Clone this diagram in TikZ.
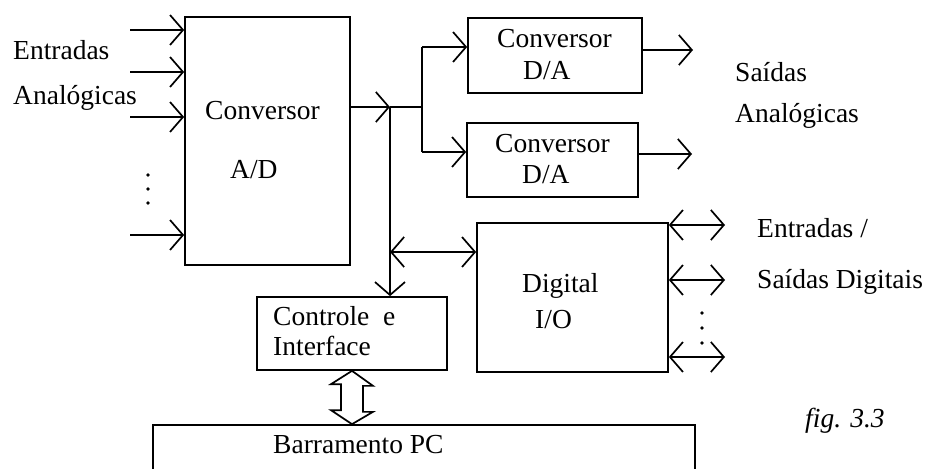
\documentclass[tikz,border=0pt]{standalone}
\usepackage{fontspec}
\setmainfont{Liberation Serif}
\usetikzlibrary{arrows.meta,calc}
\begin{document}
\begin{tikzpicture}[x=1pt,y=-1pt,
  box/.style={draw,line width=1.7pt,inner sep=0pt},
  lbl/.style={font=\fontsize{27.5}{30}\selectfont,inner sep=0pt,anchor=base west},
  wire/.style={line width=1.7pt},
  barb/.tip={Straight Barb[length=13pt,width=30pt,line width=1.7pt]},
  tipend/.style={-barb},
  tipboth/.style={barb-barb}]
\useasboundingbox (0,0) rectangle (941,468);
\clip (0,0) rectangle (941,468);

% boxes
\node[box,minimum width=165pt,minimum height=248pt] (ad) at (267.5,141) {};
\node[box,minimum width=174pt,minimum height=75pt] (da1) at (555,55.5) {};
\node[box,minimum width=171pt,minimum height=74pt] (da2) at (552.5,160) {};
\node[box,minimum width=191pt,minimum height=149pt] (dig) at (572.5,297.5) {};
\node[box,minimum width=190pt,minimum height=73pt] (ctl) at (352,333.5) {};
\node[box,minimum width=542pt,minimum height=56pt] (bus) at (424,453) {};

% labels
\node[lbl] (t1) at (13,60) {Entradas};
\node[lbl] (t2) at (13,105) {Analógicas};
\node[lbl] (t3) at (205,120) {Conversor};
\node[lbl] (t4) at (230,178) {A/D};
\node[lbl] (t5) at (497,48) {Conversor};
\node[lbl] (t6) at (523,80) {D/A};
\node[lbl] (t7) at (495,152) {Conversor};
\node[lbl] (t8) at (522,183) {D/A};
\node[lbl] (t9) at (735,82) {Saídas};
\node[lbl] (t10) at (735,122) {Analógicas};
\node[lbl] (t11) at (522,292) {Digital};
\node[lbl] (t12) at (535,328) {I/O};
\node[lbl] (t13) at (273,325) {Controle\ \ e};
\node[lbl] (t14) at (273,355) {Interface};
\node[lbl] (t15) at (273,453) {Barramento PC};
\node[lbl] (t16) at (757,237) {Entradas /};
\node[lbl] (t17) at (757,288) {Saídas Digitais};
\node[lbl,font=\fontsize{27.5}{30}\selectfont\itshape] (t18) at (805,427) {fig. 3.3};

% analog inputs
\coordinate (i1) at (130,30);
\coordinate (i2) at (130,72);
\coordinate (i3) at (130,117);
\coordinate (i4) at (130,235);
\foreach \c in {i1,i2,i3,i4} \draw[wire,tipend] (\c) -- (\c -| ad.west);
\foreach \y in {175,189,203} \fill (148,\y) circle (1.9pt);

% bus
\coordinate (bj) at (390,107);
\coordinate (sp) at (422,107);
\coordinate (s1) at (422,47);
\coordinate (s2) at (422,152);
\draw[wire,tipend] (bj -| ad.east) -- (bj);
\draw[wire] (bj) -- (sp);
\draw[wire] (s1) -- (s2);
\draw[wire,tipend] (s1) -- (s1 -| da1.west);
\draw[wire,tipend] (s2) -- (s2 -| da2.west);
\draw[wire,tipend] (bj) -- (bj |- ctl.north);
\coordinate (bd) at (390,252);
\draw[wire,tipboth] (bd) -- (bd -| dig.west);

% analog outputs
\coordinate (o1) at (693,50);
\coordinate (o2) at (692,154);
\draw[wire,tipend] (o1 -| da1.east) -- (o1);
\draw[wire,tipend] (o2 -| da2.east) -- (o2);

% digital I/O
\coordinate (d1) at (725,225);
\coordinate (d2) at (725,280);
\coordinate (d3) at (725,357);
\foreach \c in {d1,d2,d3} \draw[wire,tipboth] (\c -| dig.east) -- (\c);
\foreach \y in {313,328,343} \fill (702,\y) circle (1.9pt);

% hollow double arrow between interface and PC bus
\draw[line width=1.7pt,line join=miter]
  (ctl.south) -- ++(21,15) -- ++(-10,0) -- ++(0,26) -- ++(10,0)
  -- (ctl.south |- bus.north) -- ++(-21,-14) -- ++(10,0) -- ++(0,-26)
  -- ++(-10,0) -- cycle;
\end{tikzpicture}
\end{document}
